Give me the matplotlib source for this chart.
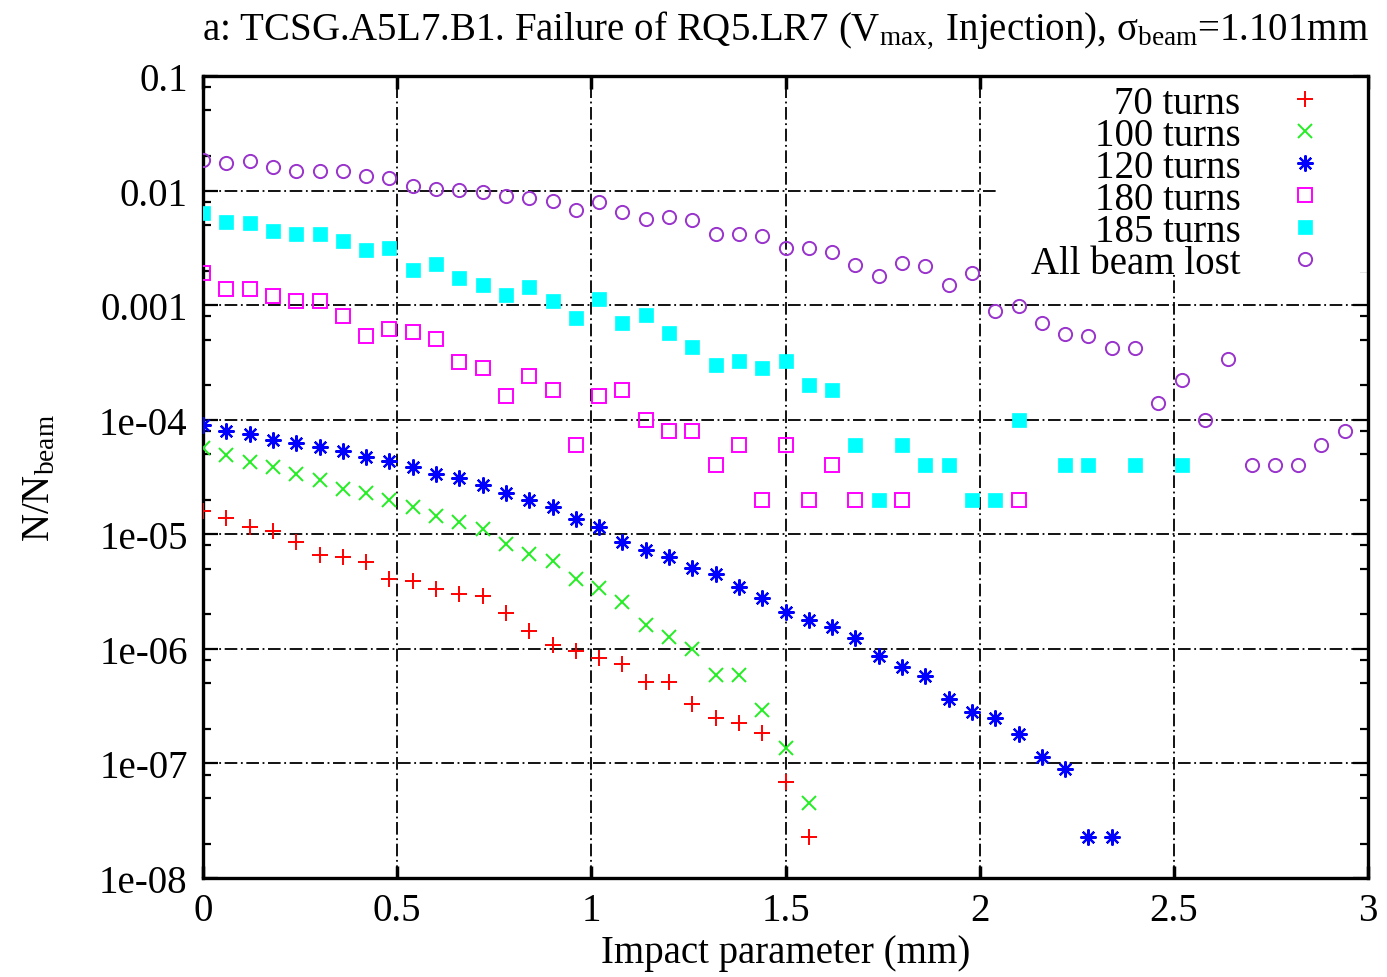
import numpy as np
import matplotlib
matplotlib.use("Agg")
import matplotlib.pyplot as plt
from matplotlib.patches import Rectangle
from matplotlib.ticker import LogLocator, FuncFormatter, FixedLocator, NullLocator

plt.rcParams['font.family'] = ['Liberation Serif', 'DejaVu Serif']
plt.rcParams['mathtext.fontset'] = 'custom'
plt.rcParams['mathtext.rm'] = 'Liberation Serif'
plt.rcParams['mathtext.it'] = 'Liberation Serif:italic'

nan = np.nan

# impact parameter grid (mm)
impact = [0.00, 0.06, 0.12, 0.18, 0.24, 0.30, 0.36, 0.42, 0.48, 0.54,
          0.60, 0.66, 0.72, 0.78, 0.84, 0.90, 0.96, 1.02, 1.08, 1.14,
          1.20, 1.26, 1.32, 1.38, 1.44, 1.50, 1.56, 1.62, 1.68, 1.74,
          1.80, 1.86, 1.92, 1.98, 2.04, 2.10, 2.16, 2.22, 2.28, 2.34,
          2.40, 2.46, 2.52, 2.58, 2.64, 2.70, 2.76, 2.82, 2.88, 2.94]

turns70 = [1.61e-5, 1.38e-5, 1.16e-5, 1.07e-5, 8.5e-6, 6.6e-6, 6.3e-6, 5.7e-6, 4.1e-6, 3.9e-6,
           3.3e-6, 3.0e-6, 2.9e-6, 2.06e-6, 1.44e-6, 1.08e-6, 9.5e-7, 8.4e-7, 7.4e-7, 5.1e-7,
           5.1e-7, 3.3e-7, 2.5e-7, 2.25e-7, 1.83e-7, 6.9e-8, 2.27e-8]

turns100 = [5.7e-5, 4.9e-5, 4.25e-5, 3.85e-5, 3.35e-5, 3.0e-5, 2.5e-5, 2.3e-5, 2.0e-5, 1.72e-5,
            1.45e-5, 1.27e-5, 1.11e-5, 8.3e-6, 6.7e-6, 5.9e-6, 4.1e-6, 3.4e-6, 2.55e-6, 1.6e-6,
            1.26e-6, 1.0e-6, 5.9e-7, 5.9e-7, 2.9e-7, 1.36e-7, 4.5e-8]

turns120 = [9.0e-5, 8.0e-5, 7.5e-5, 6.7e-5, 6.3e-5, 5.8e-5, 5.3e-5, 4.7e-5, 4.4e-5, 3.85e-5,
            3.35e-5, 3.1e-5, 2.7e-5, 2.3e-5, 2.0e-5, 1.72e-5, 1.36e-5, 1.15e-5, 8.6e-6, 7.3e-6,
            6.3e-6, 5.1e-6, 4.5e-6, 3.45e-6, 2.8e-6, 2.1e-6, 1.8e-6, 1.55e-6, 1.24e-6, 8.7e-7,
            6.9e-7, 5.8e-7, 3.65e-7, 2.8e-7, 2.5e-7, 1.8e-7, 1.13e-7, 9.0e-8, 2.27e-8, 2.27e-8]

turns180 = [1.9e-3, 1.38e-3, 1.38e-3, 1.19e-3, 1.09e-3, 1.09e-3, 8.1e-4, 5.4e-4, 6.2e-4, 5.8e-4,
            5.1e-4, 3.2e-4, 2.8e-4, 1.6e-4, 2.4e-4, 1.8e-4, 6.0e-5, 1.6e-4, 1.8e-4, 1.0e-4,
            8.0e-5, 8.0e-5, 4.0e-5, 6.0e-5, 2.0e-5, 6.0e-5, 2.0e-5, 4.0e-5, 2.0e-5, nan,
            2.0e-5, nan, nan, nan, nan, 2.0e-5]

turns185 = [6.4e-3, 5.3e-3, 5.2e-3, 4.4e-3, 4.2e-3, 4.2e-3, 3.6e-3, 3.05e-3, 3.17e-3, 2.04e-3,
            2.29e-3, 1.73e-3, 1.5e-3, 1.23e-3, 1.43e-3, 1.08e-3, 7.8e-4, 1.13e-3, 7.0e-4, 8.2e-4,
            5.7e-4, 4.3e-4, 3.0e-4, 3.24e-4, 2.83e-4, 3.27e-4, 2.02e-4, 1.82e-4, 6.0e-5, 2.0e-5,
            6.0e-5, 4.0e-5, 4.0e-5, 2.0e-5, 2.0e-5, 1.0e-4, nan, 4.0e-5, 4.0e-5, nan,
            4.0e-5, nan, 4.0e-5]

all_lost = [1.86e-2, 1.74e-2, 1.80e-2, 1.60e-2, 1.47e-2, 1.49e-2, 1.49e-2, 1.33e-2, 1.28e-2, 1.10e-2,
            1.03e-2, 1.01e-2, 9.7e-3, 9.0e-3, 8.6e-3, 8.1e-3, 6.8e-3, 7.9e-3, 6.5e-3, 5.6e-3,
            5.9e-3, 5.5e-3, 4.2e-3, 4.2e-3, 4.0e-3, 3.15e-3, 3.13e-3, 2.93e-3, 2.24e-3, 1.79e-3,
            2.33e-3, 2.21e-3, 1.51e-3, 1.91e-3, 8.9e-4, 9.8e-4, 7.0e-4, 5.6e-4, 5.4e-4, 4.2e-4,
            4.2e-4, 1.4e-4, 2.2e-4, 1.0e-4, 3.4e-4, 4.0e-5, 4.0e-5, 4.0e-5, 6.0e-5, 8.0e-5]

labels = ["70 turns", "100 turns", "120 turns", "180 turns", "185 turns", "All beam lost"]
x_ticks = [0, 0.5, 1, 1.5, 2, 2.5, 3]
x_ticklabels = ["0", "0.5", "1", "1.5", "2", "2.5", "3"]

title = ("a: TCSG.A5L7.B1. Failure of RQ5.LR7 (V$_{\\mathrm{max},}\\;$Injection), "
         "σ$_{\\mathrm{beam}}$=1.101mm")

W, H = 1387, 978
fig = plt.figure(figsize=(W / 100, H / 100), dpi=100)
L, R, T, B = 203, 1368, 77, 879
ax = fig.add_axes([L / W, 1 - B / H, (R - L) / W, (B - T) / H])

FS = 28
series = [
    (turns70, dict(marker='+', color='#ff0000', ms=11, mew=1.4, ls='none')),
    (turns100, dict(marker='x', color='#22ee22', ms=10, mew=1.4, ls='none')),
    (turns120, dict(marker=(8, 2, 0), color='#0000ff', ms=11.5, mew=1.6, ls='none')),
    (turns180, dict(marker='s', color='#ff00ff', mfc='none', ms=9.5, mew=1.4, ls='none')),
    (turns185, dict(marker='s', color='#00ffff', mfc='#00ffff', mec='#00ffff', ms=10, mew=0.5, ls='none')),
    (all_lost, dict(marker='o', color='#9933cc', mfc='none', ms=9.5, mew=1.4, ls='none')),
]
for (vals, kw), lab in zip(series, labels):
    xs = impact[:len(vals)]
    ax.plot(xs, vals, label=lab, zorder=3, **kw)

ax.set_yscale('log')
ax.set_xlim(0, 3)
ax.set_ylim(1e-8, 0.1)

ax.xaxis.set_major_locator(FixedLocator(x_ticks))
ax.set_xticklabels(x_ticklabels)
ax.xaxis.set_minor_locator(NullLocator())
ax.yaxis.set_major_locator(LogLocator(base=10, numticks=20))
ax.yaxis.set_minor_locator(LogLocator(base=10, subs=(2.0, 5.0, 8.0), numticks=20))


def yfmt(v, pos):
    if v >= 1e-3:
        return '%g' % v
    return '%.0e' % v


ax.yaxis.set_major_formatter(FuncFormatter(yfmt))

ax.tick_params(which='both', direction='in', top=True, right=True, labelsize=FS, colors='black')
ax.tick_params(axis='y', which='major', length=11, width=1.6, pad=11)
ax.tick_params(axis='y', which='minor', length=6, width=1.6)
ax.tick_params(axis='x', which='major', length=9, width=2.5, pad=10)
for s in ax.spines.values():
    s.set_linewidth(2.4)

# dash-dot grid, drawn beneath the key area
gridstyle = dict(color='black', lw=1.3, ls=(0, (7, 2, 1, 2)), zorder=1)
for v in ax.get_xticks()[1:-1]:
    ax.axvline(v, **gridstyle)
for v in ax.get_yticks():
    if 1e-8 < v < 0.1:
        ax.axhline(v, **gridstyle)

# opaque key background (gnuplot style, no border)
kx0 = (998 - L) / (R - L)
ky0 = (B - 273) / (B - T)
ax.add_patch(Rectangle((kx0, ky0), 1 - kx0, 1 - ky0, transform=ax.transAxes,
                       facecolor='white', edgecolor='none', zorder=2))

leg = ax.legend(loc='upper right', bbox_to_anchor=((1322 - L) / (R - L), (B - 86) / (B - T)),
                markerfirst=False, fontsize=FS, frameon=False,
                labelspacing=-0.13, handlelength=0.9, handletextpad=1.2, borderpad=0.0,
                borderaxespad=0.0)
leg.set_zorder(2.2)

ax.set_title(title, fontsize=FS, pad=27)
ax.set_xlabel("Impact parameter (mm)", fontsize=FS)
ax.set_ylabel("N/N$_{\\mathrm{beam}}$", fontsize=FS)
ax.xaxis.set_label_coords(0.5, -(935 - B) / (B - T))
ax.yaxis.set_label_coords(-(L - 58) / (R - L), 0.5)

fig.savefig("out.png", dpi=100)
